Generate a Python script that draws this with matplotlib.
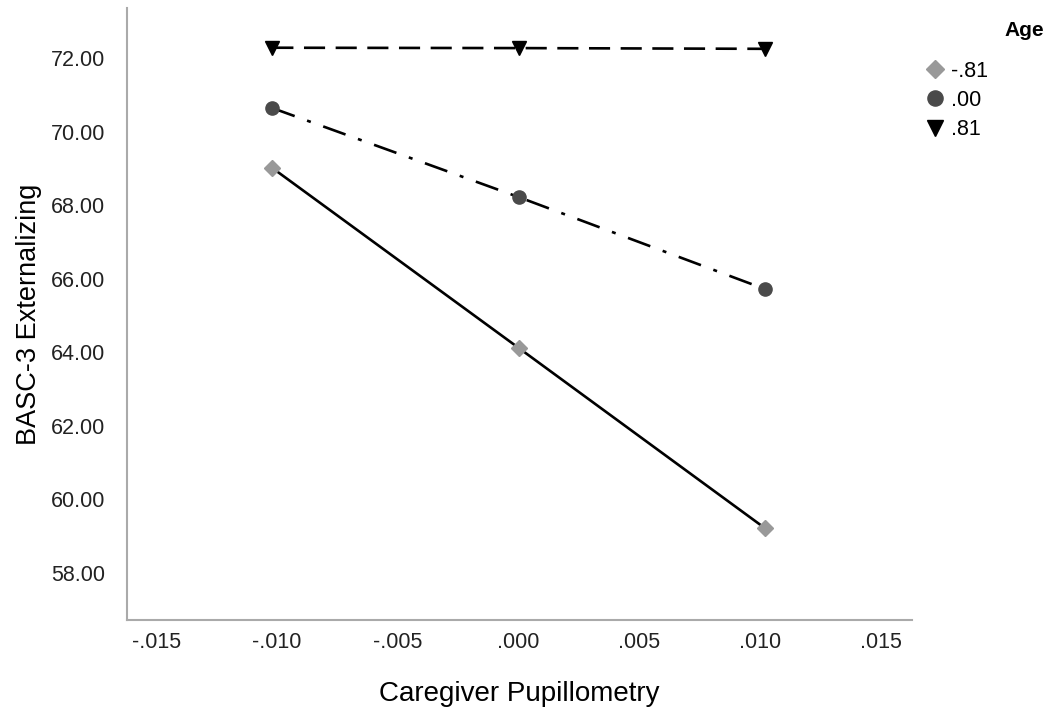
import matplotlib.pyplot as plt

plt.rcParams['font.family'] = ['Liberation Sans', 'DejaVu Sans']

pupil = [-0.0102, 0.0, 0.0102]
age_labels = ['-.81', '.00', '.81']
basc_low = [69.01, 64.12, 59.22]
basc_mid = [70.64, 68.22, 65.72]
basc_high = [72.28, 72.27, 72.25]

xticks = [-0.015, -0.010, -0.005, 0.000, 0.005, 0.010, 0.015]
yticks = [58, 60, 62, 64, 66, 68, 70, 72]

fig = plt.figure(figsize=(10.49, 7.17), dpi=100)
ax = fig.add_axes([127/1049, 1 - 620/717, (912-127)/1049, (620-8)/717])

series = [
    (basc_low, 'D', '#999999', '-', 8),
    (basc_mid, 'o', '#4a4a4a', (0, (9, 5, 1.5, 5)), 9.5),
    (basc_high, 'v', '#000000', (0, (8, 4)), 10.5),
]
for (vals, mk, col, ls, ms), lab in zip(series, age_labels):
    ax.plot(pupil, vals, color='black', linestyle=ls, linewidth=1.9, zorder=2)
    ax.plot(pupil, vals, linestyle='none', marker=mk, color=col, markersize=ms,
            label=lab, zorder=3)

ax.set_xlim(-0.01622, 0.0163)
ax.set_ylim(56.72, 73.36)
ax.set_xticks(xticks)
ax.set_xticklabels(['-.015', '-.010', '-.005', '.000', '.005', '.010', '.015'])
ax.set_yticks(yticks)
ax.set_yticklabels(['%.2f' % v for v in yticks])
ax.tick_params(length=0, labelsize=15.5, colors='#222222')
ax.tick_params(axis='x', pad=9)
ax.tick_params(axis='y', pad=16)

for s in ['top', 'right']:
    ax.spines[s].set_visible(False)
for s in ['left', 'bottom']:
    ax.spines[s].set_color('#aaaaaa')
    ax.spines[s].set_linewidth(1.5)

ax.set_xlabel('Caregiver Pupillometry', fontsize=20, labelpad=20)
ax.set_ylabel('BASC-3 Externalizing', fontsize=19.5, labelpad=6)

leg = fig.legend(loc='upper left', bbox_to_anchor=(910/1049, 1 - 50/717),
                 frameon=False, fontsize=15.5, handletextpad=0.1,
                 labelspacing=0.38, handlelength=1.3, borderpad=0,
                 markerscale=1.15)
fig.text(1044/1049, 1 - 30/717, 'Age', ha='right', va='center',
         fontsize=15, fontweight='bold')

fig.savefig('out.png', dpi=100)
